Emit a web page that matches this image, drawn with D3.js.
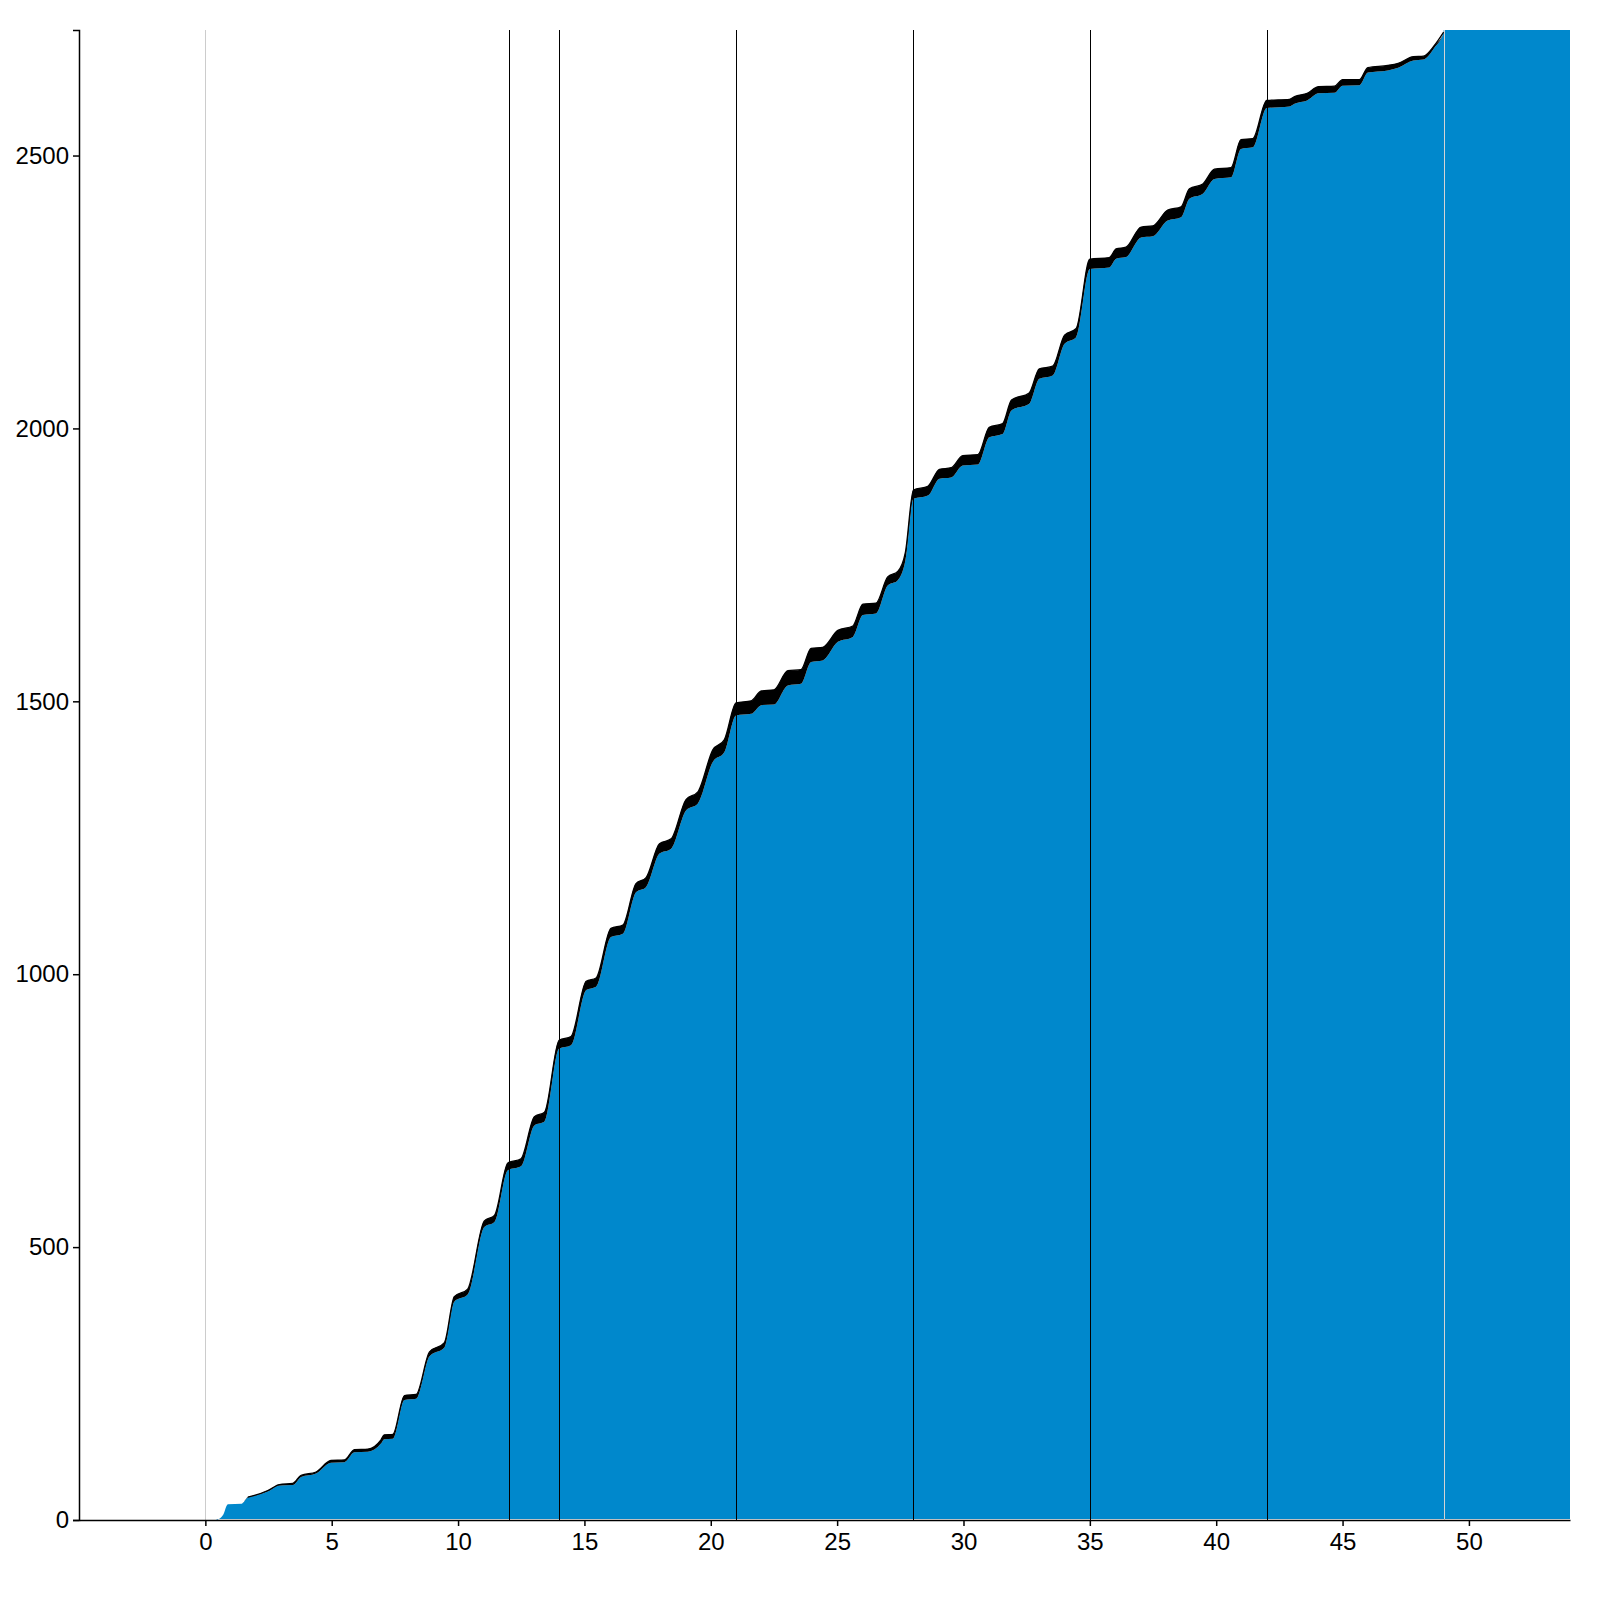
<!DOCTYPE html>
<html>
<head>
<meta charset="utf-8">
<script src="https://cdn.jsdelivr.net/npm/d3@7"></script>
<style>
  body { margin: 0; background: #fff; }
  text { font-family: "Liberation Sans", Arial, sans-serif; }
</style>
</head>
<body>
<div id="chart"></div>
<script>
// day since start, cumulative count, and the pending band stacked on top
const days = [0.45, 0.7, 0.89, 1.44, 1.68, 1.94, 2.47, 2.93, 3.46, 3.79, 4.38, 4.97, 5.5, 5.9, 6.43, 6.95, 7.08, 7.42, 7.88, 8.34,
  8.87, 9.46, 9.85, 10.38, 11.04, 11.44, 11.97, 12.49, 13.02, 13.42, 14.0, 14.47, 15.07, 15.46, 16.05, 16.52, 17.04, 17.44, 17.97, 18.43,
  19.02, 19.49, 20.08, 20.54, 21.0, 21.6, 22.0, 22.5, 23.05, 23.57, 23.97, 24.43, 25.03, 25.62, 26.02, 26.54, 27.0, 27.4, 27.7, 28.02,
  28.59, 29.05, 29.51, 29.97, 30.57, 31.02, 31.55, 31.9, 32.6, 33.0, 33.53, 34.0, 34.46, 35.0, 35.77, 36.04, 36.43, 37.03, 37.49, 38.08,
  38.61, 38.94, 39.47, 39.93, 40.59, 40.98, 41.45, 42.0, 42.9, 43.1, 43.6, 44.05, 44.68, 45.0, 45.67, 46.0, 46.79, 47.2, 47.8, 48.2,
  48.64, 49.0, 49.02, 54];
const confirmed = [0, 9, 29, 30, 41, 44, 52, 63, 64, 79, 85, 105, 106, 124, 125, 140, 148, 149, 220, 222,
  300, 316, 400, 413, 537, 546, 641, 648, 723, 730, 864, 870, 971, 977, 1068, 1074, 1150, 1160, 1221, 1230,
  1300, 1313, 1389, 1407, 1474, 1477, 1493, 1494, 1529, 1532, 1572, 1575, 1609, 1618, 1658, 1661, 1712, 1722, 1758, 1871,
  1877, 1908, 1910, 1932, 1934, 1984, 1990, 2033, 2045, 2091, 2097, 2155, 2167, 2292, 2295, 2311, 2314, 2350, 2352, 2381,
  2387, 2421, 2430, 2457, 2460, 2512, 2515, 2587, 2590, 2595, 2601, 2614, 2615, 2628, 2629, 2652, 2656, 2661, 2674, 2676,
  2698, 2726, 3000, 3000];
const pending = [0, 0, 0, 0, 1, 1, 2, 2, 3, 3, 3, 4, 4, 5, 5, 7, 8, 8, 8, 8,
  8, 9, 9, 10, 11, 12, 13, 14, 16, 17, 15, 16, 16, 16, 16, 16, 16, 17, 18, 18,
  20, 21, 22, 23, 23, 24, 26, 27, 27, 26, 25, 24, 21, 20, 20, 19, 16, 16, 15, 16,
  17, 17, 18, 18, 18, 18, 19, 19, 20, 18, 17, 16, 16, 18, 18, 18, 18, 19, 19, 19,
  19, 18, 18, 18, 18, 17, 16, 14, 13, 13, 13, 12, 12, 11, 10, 9, 9, 8, 7, 6,
  4, 0, 0, 0];
const weekLines = [12, 14, 21, 28, 35, 42];
const xTicks = [0, 5, 10, 15, 20, 25, 30, 35, 40, 45, 50];
const yTicks = [0, 500, 1000, 1500, 2000, 2500];

const W = 1600, H = 1600;
const margin = {top: 30, right: 30, bottom: 80, left: 79};
const width = W - margin.left - margin.right;
const height = H - margin.top - margin.bottom;

const data = days.map((d, i) => ({x: d, lo: confirmed[i], hi: confirmed[i] + pending[i]}));

const x = d3.scaleLinear().domain([-5, 54]).range([0, width]);
const y = d3.scaleLinear().domain([0, 2730]).range([height, 0]);

const svg = d3.select("#chart").append("svg")
    .attr("width", W)
    .attr("height", H);

svg.append("defs").append("clipPath")
    .attr("id", "clip")
  .append("rect")
    .attr("width", width)
    .attr("height", height);

const g = svg.append("g")
    .attr("transform", `translate(${margin.left},${margin.top})`);

const plot = g.append("g").attr("clip-path", "url(#clip)");

plot.append("line")
    .attr("x1", Math.round(x(0)) + 0.5)
    .attr("x2", Math.round(x(0)) + 0.5)
    .attr("y1", 0)
    .attr("y2", height)
    .attr("stroke", "#cccccc")
    .attr("stroke-width", 1);

const lower = d3.area()
    .curve(d3.curveMonotoneX)
    .x(d => x(d.x))
    .y0(y(0) - 1)
    .y1(d => y(d.lo));

const band = d3.area()
    .curve(d3.curveMonotoneX)
    .x(d => x(d.x))
    .y0(d => y(d.lo))
    .y1(d => y(d.hi));

const edge = d3.line()
    .curve(d3.curveMonotoneX)
    .x(d => x(d.x))
    .y(d => y(d.hi));

plot.append("path")
    .datum(data)
    .attr("d", lower)
    .attr("fill", "#0088cc");

plot.append("path")
    .datum(data)
    .attr("d", band)
    .attr("fill", "#000");

// thin outline along the top, it is there from day ~1.6 on
plot.append("path")
    .datum(data.filter(d => d.x > 1.6 && d.x <= 49))
    .attr("d", edge)
    .attr("fill", "none")
    .attr("stroke", "#000")
    .attr("stroke-width", 1.3);

plot.selectAll(".week")
  .data(weekLines)
  .enter().append("line")
    .attr("class", "week")
    .attr("x1", d => Math.round(x(d)) + 0.5)
    .attr("x2", d => Math.round(x(d)) + 0.5)
    .attr("y1", 0)
    .attr("y2", height)
    .attr("stroke", "#000")
    .attr("stroke-width", 1);

plot.append("line")
    .attr("x1", Math.round(x(49)) + 0.5)
    .attr("x2", Math.round(x(49)) + 0.5)
    .attr("y1", 0)
    .attr("y2", height)
    .attr("stroke", "#d4d4d4")
    .attr("stroke-width", 1);

const xAxis = d3.axisBottom(x)
    .tickValues(xTicks)
    .tickSizeOuter(0)
    .tickPadding(7);

const yAxis = d3.axisLeft(y)
    .tickValues(yTicks)
    .tickFormat(d3.format("d"))
    .tickSizeOuter(0)
    .tickSize(6)
    .tickPadding(4);

g.append("g")
    .attr("transform", `translate(0,${height})`)
    .call(xAxis)
    .call(a => a.selectAll("text").attr("font-size", 24).attr("fill", "#000"))
    .call(a => a.selectAll("line, path").attr("stroke", "#000").attr("stroke-width", 1.5));

g.append("g")
    .call(yAxis)
    .call(a => a.selectAll("text").attr("font-size", 24).attr("fill", "#000"))
    .call(a => a.selectAll("line, path").attr("stroke", "#000").attr("stroke-width", 1.5));
</script>
</body>
</html>
